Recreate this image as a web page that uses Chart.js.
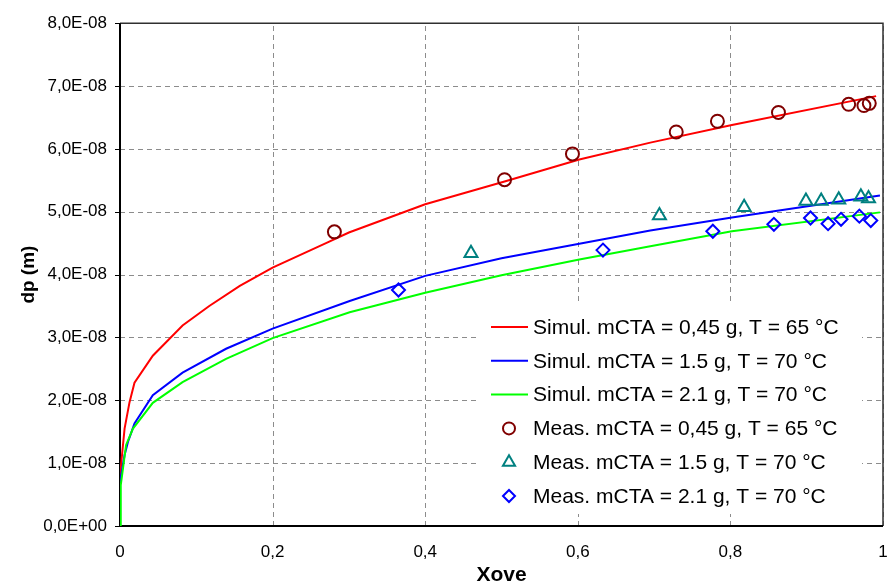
<!DOCTYPE html>
<html>
<head>
<meta charset="utf-8">
<script src="https://cdn.jsdelivr.net/npm/chart.js@4/dist/chart.umd.min.js"></script>
<style>
  html, body { margin: 0; padding: 0; background: #ffffff; }
  #wrap { width: 888px; height: 587px; }
</style>
</head>
<body>
<div id="wrap"><canvas id="c" width="888" height="587"></canvas></div>
<script>
// ---------- data (dp in metres, Xove dimensionless) ----------
const seriesLabels = [
  "Simul. mCTA = 0,45 g, T = 65 °C",
  "Simul. mCTA = 1.5 g, T = 70 °C",
  "Simul. mCTA = 2.1 g, T = 70 °C",
  "Meas. mCTA = 0,45 g, T = 65 °C",
  "Meas. mCTA = 1.5 g, T = 70 °C",
  "Meas. mCTA = 2.1 g, T = 70 °C"
];

const simRedX  = [0, 0.006, 0.0125, 0.019, 0.043, 0.082, 0.117, 0.157, 0.2, 0.27, 0.3, 0.4, 0.504, 0.602, 0.695, 0.802, 0.991];
const simRedY  = [0.80e-8, 1.55e-8, 1.97e-8, 2.28e-8, 2.71e-8, 3.19e-8, 3.50e-8, 3.82e-8, 4.11e-8, 4.50e-8, 4.67e-8, 5.12e-8, 5.48e-8, 5.83e-8, 6.10e-8, 6.38e-8, 6.84e-8];

const simBlueX = [0, 0.006, 0.0105, 0.019, 0.043, 0.082, 0.139, 0.2, 0.301, 0.4, 0.5, 0.602, 0.695, 0.802, 0.996];
const simBlueY = [0.70e-8, 1.13e-8, 1.34e-8, 1.63e-8, 2.08e-8, 2.44e-8, 2.82e-8, 3.14e-8, 3.58e-8, 3.98e-8, 4.26e-8, 4.49e-8, 4.70e-8, 4.91e-8, 5.26e-8];

const simGreenX = [0, 0.001, 0.008, 0.017, 0.043, 0.082, 0.139, 0.2, 0.301, 0.4, 0.5, 0.602, 0.695, 0.802, 0.996];
const simGreenY = [0, 0.65e-8, 1.29e-8, 1.55e-8, 1.96e-8, 2.29e-8, 2.66e-8, 2.99e-8, 3.40e-8, 3.71e-8, 3.99e-8, 4.24e-8, 4.45e-8, 4.69e-8, 4.99e-8];

const measRedX = [0.281, 0.504, 0.593, 0.729, 0.783, 0.863, 0.955, 0.975, 0.982];
const measRedY = [4.68e-8, 5.51e-8, 5.92e-8, 6.27e-8, 6.44e-8, 6.58e-8, 6.71e-8, 6.69e-8, 6.725e-8];

const measTealX = [0.460, 0.707, 0.818, 0.899, 0.919, 0.942, 0.971, 0.981];
const measTealY = [4.34e-8, 4.94e-8, 5.07e-8, 5.17e-8, 5.17e-8, 5.19e-8, 5.24e-8, 5.21e-8];

const measBlueX = [0.365, 0.633, 0.777, 0.857, 0.905, 0.928, 0.945, 0.969, 0.984];
const measBlueY = [3.755e-8, 4.39e-8, 4.69e-8, 4.80e-8, 4.90e-8, 4.81e-8, 4.88e-8, 4.93e-8, 4.86e-8];

const xTitle = "Xove";
const yTitle = "dp (m)";
const xMin = 0, xMax = 1, xStep = 0.2;
const yMin = 0, yMax = 8e-8, yStep = 1e-8;

// ---------- helpers ----------
function pts(xs, ys) { return xs.map((x, i) => ({ x: x, y: ys[i] })); }
function fmtY(v) {
  const s = Number(v).toExponential(1);
  const parts = s.split('e');
  const mant = parts[0].replace('.', ',');
  let exp = parseInt(parts[1], 10);
  const sign = exp < 0 ? '-' : '+';
  exp = Math.abs(exp);
  return mant + 'E' + sign + (exp < 10 ? '0' + exp : '' + exp);
}
function fmtX(v) {
  const r = Math.round(v * 10) / 10;
  if (r === 0) return '0';
  if (r === 1) return '1';
  return r.toFixed(1).replace('.', ',');
}

const FONT = "'Liberation Sans', Arial, sans-serif";

const datasets = [
  { label: seriesLabels[3], data: pts(measRedX, measRedY), showLine: false,
    pointStyle: 'circle', pointRadius: 6.5, pointBorderWidth: 2,
    pointBorderColor: '#800000', pointBackgroundColor: 'rgba(0,0,0,0)',
    borderColor: '#800000', backgroundColor: 'rgba(0,0,0,0)', order: 0 },
  { label: seriesLabels[4], data: pts(measTealX, measTealY), showLine: false,
    pointStyle: 'triangle', pointRadius: 7.5, pointBorderWidth: 2,
    pointBorderColor: '#008080', pointBackgroundColor: 'rgba(0,0,0,0)',
    borderColor: '#008080', backgroundColor: 'rgba(0,0,0,0)', order: 1 },
  { label: seriesLabels[5], data: pts(measBlueX, measBlueY), showLine: false,
    pointStyle: 'rectRot', pointRadius: 6.5, pointBorderWidth: 2,
    pointBorderColor: '#0000FF', pointBackgroundColor: 'rgba(0,0,0,0)',
    borderColor: '#0000FF', backgroundColor: 'rgba(0,0,0,0)', order: 2 },
  { label: seriesLabels[2], data: pts(simGreenX, simGreenY), showLine: true,
    borderColor: '#00FF00', borderWidth: 2, pointRadius: 0, tension: 0, order: 3 },
  { label: seriesLabels[1], data: pts(simBlueX, simBlueY), showLine: true,
    borderColor: '#0000FF', borderWidth: 2, pointRadius: 0, tension: 0, order: 4 },
  { label: seriesLabels[0], data: pts(simRedX, simRedY), showLine: true,
    borderColor: '#FF0000', borderWidth: 2, pointRadius: 0, tension: 0, order: 5 }
];

const legendEntries = [
  { label: seriesLabels[0], kind: 'line', color: '#FF0000' },
  { label: seriesLabels[1], kind: 'line', color: '#0000FF' },
  { label: seriesLabels[2], kind: 'line', color: '#00FF00' },
  { label: seriesLabels[3], kind: 'circle', color: '#800000' },
  { label: seriesLabels[4], kind: 'triangle', color: '#008080' },
  { label: seriesLabels[5], kind: 'rectRot', color: '#0000FF' }
];

const framePlugin = {
  id: 'frame',
  beforeDatasetsDraw(chart) {
    const { ctx, chartArea: a } = chart;
    const xs = chart.scales.x, ys = chart.scales.y;
    ctx.save();
    ctx.strokeStyle = '#8c8c8c';
    ctx.lineWidth = 1;
    ctx.setLineDash([5, 4]);
    xs.ticks.forEach(t => {
      const px = Math.round(xs.getPixelForValue(t.value)) + 0.5;
      ctx.beginPath(); ctx.moveTo(px, a.bottom); ctx.lineTo(px, a.top); ctx.stroke();
    });
    ys.ticks.forEach(t => {
      const py = Math.round(ys.getPixelForValue(t.value)) + 0.5;
      ctx.beginPath(); ctx.moveTo(a.left, py); ctx.lineTo(a.right, py); ctx.stroke();
    });
    ctx.setLineDash([]);
    ctx.strokeStyle = '#000';
    ys.ticks.forEach(t => {
      const py = Math.round(ys.getPixelForValue(t.value)) + 0.5;
      ctx.beginPath(); ctx.moveTo(a.left - 5, py); ctx.lineTo(a.left, py); ctx.stroke();
    });
    ctx.strokeStyle = '#303030';
    ctx.lineWidth = 1.5;
    ctx.beginPath();
    ctx.moveTo(a.left, a.top); ctx.lineTo(a.right, a.top); ctx.lineTo(a.right, a.bottom);
    ctx.stroke();
    ctx.strokeStyle = '#000';
    ctx.lineWidth = 2;
    ctx.beginPath();
    ctx.moveTo(a.left, a.top); ctx.lineTo(a.left, a.bottom); ctx.lineTo(a.right, a.bottom);
    ctx.stroke();
    ctx.restore();
  },
  afterDraw(chart) {
    const { ctx } = chart;
    const box = { x: 479, y: 305, w: 383, h: 209 };
    ctx.save();
    ctx.fillStyle = '#ffffff';
    ctx.fillRect(box.x, box.y, box.w, box.h);
    const rowY0 = 327, rowDy = 33.8;
    ctx.font = '21px ' + FONT;
    ctx.textBaseline = 'middle';
    ctx.textAlign = 'left';
    legendEntries.forEach((e, i) => {
      const y = rowY0 + i * rowDy;
      ctx.strokeStyle = e.color;
      ctx.lineWidth = 2;
      if (e.kind === 'line') {
        ctx.beginPath(); ctx.moveTo(491, y); ctx.lineTo(528, y); ctx.stroke();
      } else {
        ctx.fillStyle = 'rgba(0,0,0,0)';
        Chart.helpers.drawPoint(ctx, { pointStyle: e.kind, radius: e.kind === 'triangle' ? 7 : 6, borderWidth: 2, rotation: 0 }, 509, y);
      }
      ctx.fillStyle = '#000';
      ctx.fillText(e.label, 533, y + 1);
    });
    ctx.restore();
  }
};

new Chart(document.getElementById('c'), {
  type: 'scatter',
  data: { datasets: datasets },
  options: {
    responsive: false,
    devicePixelRatio: 1,
    animation: false,
    layout: { autoPadding: false, padding: { left: 0, right: 5, top: 18, bottom: 0 } },
    plugins: { legend: { display: false }, tooltip: { enabled: false } },
    scales: {
      x: {
        type: 'linear', min: xMin, max: xMax,
        afterFit(s) { s.height = 61; },
        ticks: { stepSize: xStep, callback: v => fmtX(v), color: '#000',
                 font: { family: FONT, size: 17 }, padding: 0, maxRotation: 0, autoSkip: false },
        grid: { display: false, drawTicks: true, tickLength: 16, tickColor: 'rgba(0,0,0,0)' },
        border: { display: false },
        title: { display: true, text: xTitle, color: '#000',
                 font: { family: FONT, size: 21, weight: 'bold', lineHeight: 1 },
                 padding: { top: 0, bottom: 1 } }
      },
      y: {
        type: 'linear', min: yMin, max: yMax,
        afterFit(s) { s.width = 120; },
        ticks: { stepSize: yStep, callback: v => fmtY(v), color: '#000',
                 font: { family: FONT, size: 17 }, padding: 13, autoSkip: false },
        grid: { display: false, drawTicks: false },
        border: { display: false },
        title: { display: true, text: yTitle, color: '#000',
                 font: { family: FONT, size: 19, weight: 'bold', lineHeight: 1 },
                 padding: { top: 19, bottom: 0 } }
      }
    }
  },
  plugins: [framePlugin]
});
</script>
</body>
</html>
